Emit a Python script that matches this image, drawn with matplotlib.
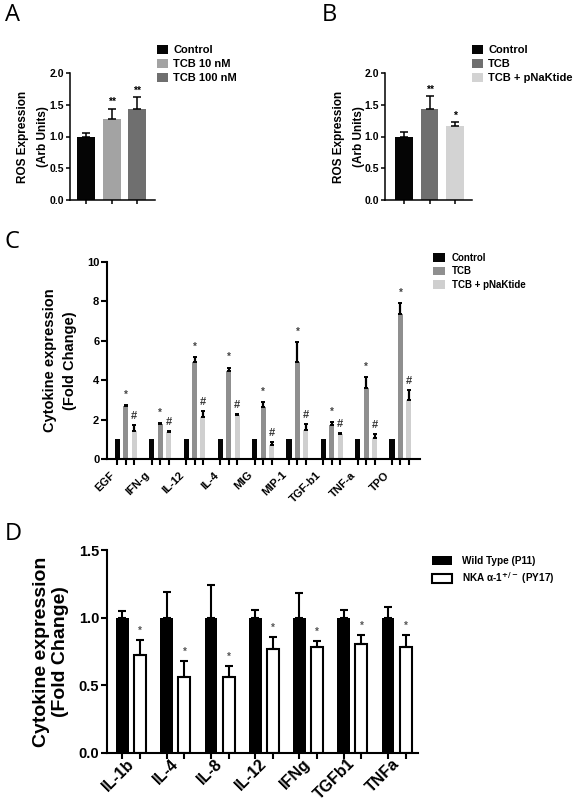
import matplotlib.pyplot as plt
import numpy as np

plt.rcParams.update({
    "font.family": ["Liberation Sans", "DejaVu Sans"],
    "font.weight": "bold",
    "axes.labelweight": "bold",
})

W, H = 578, 809

# ---- Panel A: ROS, TCB dose ----
a_groups = ["Control", "TCB 10 nM", "TCB 100 nM"]
a_means = [1.0, 1.27, 1.43]
a_sem = [0.06, 0.17, 0.19]
a_sig = ["", "**", "**"]
a_colors = ["#050505", "#a3a3a3", "#6f6f6f"]

# ---- Panel B: ROS, TCB +/- pNaKtide ----
b_groups = ["Control", "TCB", "TCB + pNaKtide"]
b_means = [1.0, 1.43, 1.16]
b_sem = [0.07, 0.2, 0.07]
b_sig = ["", "**", "*"]
b_colors = ["#050505", "#6f6f6f", "#d3d3d3"]

# ---- Panel C: cytokine panel ----
c_cytokines = ["EGF", "IFN-g", "IL-12", "IL-4", "MIG", "MIP-1", "TGF-b1", "TNF-a", "TPO"]
c_control = [1.0, 1.0, 1.0, 1.0, 1.0, 1.0, 1.0, 1.0, 1.0]
c_tcb = [2.68, 1.78, 4.9, 4.47, 2.66, 4.9, 1.75, 3.6, 7.38]
c_tcb_sem = [0.04, 0.04, 0.27, 0.16, 0.23, 1.03, 0.12, 0.55, 0.52]
c_pnak = [1.4, 1.36, 2.12, 2.22, 0.7, 1.48, 1.27, 1.07, 2.98]
c_pnak_sem = [0.33, 0.04, 0.32, 0.06, 0.14, 0.28, 0.05, 0.18, 0.53]
c_series = ["Control", "TCB", "TCB + pNaKtide"]
c_colors = ["#050505", "#8f8f8f", "#cfcfcf"]

# ---- Panel D: NKA a1 heterozygous ----
d_cytokines = ["IL-1b", "IL-4", "IL-8", "IL-12", "IFNg", "TGFb1", "TNFa"]
d_wt = [1.0, 1.0, 1.0, 1.0, 1.0, 1.0, 1.0]
d_wt_sem = [0.05, 0.19, 0.24, 0.06, 0.18, 0.06, 0.08]
d_nka = [0.725, 0.565, 0.565, 0.77, 0.785, 0.805, 0.785]
d_nka_sem = [0.11, 0.115, 0.075, 0.09, 0.045, 0.065, 0.085]
d_series = ["Wild Type (P11)", r"NKA α-1$^{+/-}$ (PY17)"]

fig = plt.figure(figsize=(W / 100, H / 100), dpi=100)


def px_axes(left, top, right, bottom):
    # axes rectangle given in pixel coords of the final image
    return fig.add_axes([left / W, 1 - bottom / H, (right - left) / W, (bottom - top) / H])


def style(ax, lw, tick_len, label_size):
    for s in ("top", "right"):
        ax.spines[s].set_visible(False)
    for s in ("left", "bottom"):
        ax.spines[s].set_linewidth(lw)
    ax.tick_params(direction="out", length=tick_len, width=lw, labelsize=label_size, pad=1.5)


def sig_marks(ax, x, tops, marks, size, color, off):
    for xi, t, m in zip(x, tops, marks):
        if m:
            ax.annotate(m, xy=(xi, t), xytext=(0, off), textcoords="offset points",
                        ha="center", va="bottom", fontsize=size, color=color)


def ros_panel(ax, groups, means, sem, sig, colors, xlim):
    x = np.arange(len(groups))
    for xi, m, e, c, g in zip(x, means, sem, colors, groups):
        ax.bar(xi, m, 0.7, color=c, label=g, yerr=[[0], [e]], capsize=2.8,
               error_kw=dict(elinewidth=1.1, capthick=1.1, ecolor="black"))
    sig_marks(ax, x, np.add(means, sem), sig, 7.5, "black", 1)
    ax.set_xlim(*xlim)
    ax.set_ylim(0, 2.0)
    ax.set_yticks([0, 0.5, 1.0, 1.5, 2.0])
    ax.set_yticklabels(["0.0", "0.5", "1.0", "1.5", "2.0"])
    ax.set_xticks(x)
    ax.set_xticklabels([])
    style(ax, 1.1, 3, 7.5)
    ax.set_ylabel("ROS Expression\n(Arb Units)", fontsize=8.5, va="center", linespacing=1.9)


def legend_at(ax, x, y, size, hl, hh, tp, ls):
    ax.legend(loc="upper left", bbox_to_anchor=(x / W, 1 - y / H), bbox_transform=fig.transFigure,
              frameon=False, borderpad=0, borderaxespad=0, handlelength=hl, handleheight=hh,
              handletextpad=tp, labelspacing=ls, prop=dict(size=size, weight="bold"))


def panel_letter(x, y, s):
    fig.text(x, H - y, s, transform=None, fontsize=17, family="Open Sans",
             fontweight="normal", va="top")


# Panel A
axA = px_axes(70, 73, 155, 200)
ros_panel(axA, a_groups, a_means, a_sem, a_sig, a_colors, (-0.63, 2.7))
axA.yaxis.set_label_coords(-0.44, 0.5)
legend_at(axA, 157, 45, 8, 1.0, 0.9, 0.45, 0.3)
panel_letter(5, 3, "A")

# Panel B
axB = px_axes(385, 73, 472, 200)
ros_panel(axB, b_groups, b_means, b_sem, b_sig, b_colors, (-0.75, 2.67))
axB.yaxis.set_label_coords(-0.41, 0.5)
legend_at(axB, 472, 45, 8, 1.0, 0.9, 0.45, 0.3)
panel_letter(322, 3, "B")

# Panel C
axC = px_axes(107, 262, 420, 459)
gc = np.arange(len(c_cytokines))
off_c = 0.245
ekw_c = dict(elinewidth=1.6, capthick=1.4, ecolor="black")
axC.bar(gc - off_c, c_control, 0.15, color=c_colors[0], label=c_series[0])
axC.bar(gc, c_tcb, 0.15, color=c_colors[1], label=c_series[1],
        yerr=[np.zeros(len(gc)), c_tcb_sem], capsize=1.1, error_kw=ekw_c)
axC.bar(gc + off_c, c_pnak, 0.15, color=c_colors[2], label=c_series[2],
        yerr=[np.zeros(len(gc)), c_pnak_sem], capsize=1.1, error_kw=ekw_c)
sig_marks(axC, gc, np.add(c_tcb, c_tcb_sem), ["*"] * len(gc), 7, "#444444", 4)
sig_marks(axC, gc + off_c, np.add(c_pnak, c_pnak_sem), ["#"] * len(gc), 8, "#333333", 3)
axC.set_xlim(-0.55, 8.57)
axC.set_ylim(0, 10)
axC.set_yticks([0, 2, 4, 6, 8, 10])
axC.set_xticks(np.concatenate([gc - off_c, gc, gc + off_c]))
axC.set_xticklabels([])
style(axC, 1.5, 4, 8)
# category names, slanted 45 degrees, ending a little left of each group centre
for g, name in zip(gc, c_cytokines):
    axC.text(g - 0.25, -0.55, name, rotation=45, ha="right", va="top",
             fontsize=8, fontweight="bold")
axC.set_ylabel("Cytokine expression\n(Fold Change)", fontsize=10.5, va="center", linespacing=1.6)
axC.yaxis.set_label_coords(-0.15, 0.5)
legend_at(axC, 433, 253, 7, 1.25, 1.0, 0.7, 0.35)
panel_letter(5, 230, "C")

# Panel D
axD = px_axes(107, 550, 418, 753)
gd = np.arange(len(d_cytokines))
off_d = 0.2
ekw_d = dict(elinewidth=1.5, capthick=1.5, ecolor="black")
axD.bar(gd - off_d, d_wt, 0.29, color="black", label=d_series[0],
        yerr=[np.zeros(len(gd)), d_wt_sem], capsize=2.9, error_kw=ekw_d)
axD.bar(gd + off_d, d_nka, 0.27, color="white", edgecolor="black", linewidth=1.5, label=d_series[1],
        yerr=[np.zeros(len(gd)), d_nka_sem], capsize=2.9, error_kw=ekw_d)
sig_marks(axD, gd + off_d, np.add(d_nka, d_nka_sem), ["*"] * len(gd), 7, "#555555", 3)
axD.set_xlim(-0.55, 6.48)
axD.set_ylim(0, 1.5)
axD.set_yticks([0, 0.5, 1.0, 1.5])
axD.set_yticklabels(["0.0", "0.5", "1.0", "1.5"])
axD.set_xticks(np.concatenate([gd - off_d, gd + off_d]))
axD.set_xticklabels([])
axD.set_xticks(gd, d_cytokines, minor=True, rotation=45, ha="right", va="center",
               rotation_mode="anchor", fontsize=11.5)
style(axD, 1.5, 4, 10.5)
axD.tick_params(axis="x", which="minor", length=0, pad=6, labelsize=11.5)
axD.set_ylabel("Cytokine expression\n(Fold Change)", fontsize=14, va="center", linespacing=1.15)
axD.yaxis.set_label_coords(-0.18, 0.5)
legend_at(axD, 432, 556, 7.2, 2.0, 0.9, 1.0, 0.4)
panel_letter(5, 522, "D")

fig.savefig("out.png", dpi=100)
